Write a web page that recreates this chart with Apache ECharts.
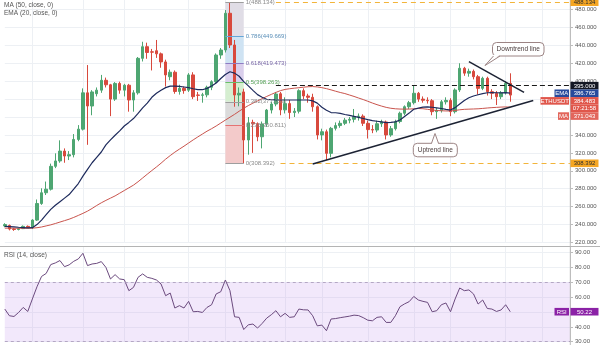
<!DOCTYPE html>
<html><head><meta charset="utf-8">
<script src="https://cdn.jsdelivr.net/npm/echarts@6/dist/echarts.min.js"></script>
<style>html,body{margin:0;padding:0;background:#fff}#c{width:600px;height:345px}</style>
</head><body><div id="c"></div>
<script>
// ---------------- data ----------------
const SLOT_COUNT = 124; // 111 candles + empty right margin slots
const slots = Array.from({length: SLOT_COUNT}, (_, i) => 'T' + i);

const opens = [238.5,239,235,234.5,235.5,238,237,245,263.5,275.5,
279.5,305,311,322,316.5,318,335,346.5,387,372.3,
386,390,401,396,380,397.5,390,395.5,379,387,
425.5,438.5,432.8,434,430.5,421.5,405,410,388.5,392,
390,407,384.6,384.2,384.8,393.2,399.4,429.2,434.8,475.8,
440.4,384.6,388,334.4,354,352.5,338,352.2,367.8,374.5,
386,368,375,365,366.5,389.4,383.5,382,371.5,340,
343.6,319.5,347.4,350.5,353,356.5,357.5,360.4,361,353,
346,345.5,352.5,354.5,340,347,355,364.2,371.5,376,
386.5,380,378.7,378.2,366,367.5,377,378.5,366,390.2,
414.4,409,411,405,392,403.2,388.3,386.5,382.7,387,
397.6];
const highs = [241.5,240,236,236.5,239,239,246,268,280.5,288,
308,319.5,334,325,322,341,351,392,418,390,
393,407,404,397,399,399.5,397,397,390,427,
444,443,436,446,432,424,413,412,396,394,
409,410,388,387,395,401,431,437,479.4,488.134,
446,393,391.6,360,357,354,355,369,377,388,
388,382,379,370,391,392,386,386,373,347,
346,349,354,356,359,360,369,364,363,356,
351,356,357,356,350,357,366,373,378,395.7,
388,383,382,380,370,379,382,381,392,420,
416,414,413,407,405,405,391,389,389,400,
408.8];
const lows = [237,233.5,233,233.5,235,236,235,244,262,273,
278,303,309,309,312,315,333,345,329,362,
383,387,393,361,378,386,383,366,366,385,
422,425,412,426,415,394,401,386,385,386,
388,380,378,376,382,390,397,425,432,437,
371.5,372,308.392,318,320,333,325,349,364,372,
362,364,358,360,364,380,376,366,335,334,
312,315,345,348,351,353,354,356,350,336,
342,343,349,335,338,345,353,362,369,374,
377,376,375,362,358,365,374,361,364,388,
406,405,402,385,390,384,380,373.4,380,385,
377.1];
const closes = [240,235,234.5,235.5,238,237,245,263.5,275.5,279.5,
305,311,322,316.5,318,335,346.5,387,372.3,388,
390,401,396,380,397.5,390,395.5,379,387,425.5,
438.5,432,432.4,430.5,421.5,407,410,388.5,392,389.5,
407,382.7,384.2,384.8,393.2,399.4,429.2,434.8,475.8,440.4,
384.6,386.5,334.4,353.5,352.5,338,352.2,367.8,374.5,385.7,
368,375,365,366.5,389.4,383.5,382,371.5,340,343.6,
319.5,347.4,350.5,353,356.5,357.5,360.4,361,353,346,
345.5,352.5,354.5,340,347,355,364.2,371.5,376,386.5,
380,378.7,378.2,366,367.5,377,378.5,366,390.2,414.4,
409,411,405,392,403.2,388.3,386.5,382.7,387,397.6,
384.483];
const ema20 = [238,237.8,237.4,237,236.7,236.4,236.5,240,245,251,
257,261.5,265.5,269.5,273.5,279.5,285.8,294,301.5,309,
315,321,329,334.5,339.7,344.5,350,354,358.3,364,
370.2,375.5,382,386.5,390,392.8,394.5,394.6,394.2,393.5,
392.8,391.6,390.6,390.5,392,394.6,398,403,407.5,410.5,
409,405.5,399.5,394.8,389.8,385,382,379.8,379.4,379.1,
379,379,379,379,379,379,379,378,375.5,371,
367.5,365,364.8,364,362.8,361.8,360.8,359.6,358.4,357.1,
356,355.3,354.6,353.7,354,354.6,356.7,360.6,364.4,368.7,
370,371,371.4,370.9,370.2,369.5,368.5,367.8,370.5,374.5,
378.5,381.5,383.5,384.9,386.2,387.1,387.2,387.1,387,387.2,
386.765];
const ma50 = [236,236,236,235.9,235.9,235.9,236,236.5,237.3,238.5,
239.7,241.2,242.8,244.4,246,248,250.2,252.5,255,258,
261.3,264.3,267,269.5,272,275,278,281,284,287.8,
292,296.2,300.3,304.3,308.5,313,317,320.8,324.2,327.5,
331,334.5,337.8,341,344.2,347,350,353.3,356.6,359.8,
363,366.5,369.8,372.8,375.5,378,380.5,383,385.3,387.5,
389.5,390.8,391.6,392.2,392.7,393.3,393.8,394,393.6,392.8,
391.7,390.3,388.8,387.4,386.2,384.6,383,381.2,379.5,377.6,
375.6,373.8,372.2,370.8,369.8,369.2,368.9,368.8,368.9,369.2,
369.5,369.3,368.6,367.9,367.3,367,366.8,366.8,367.3,368.1,
368.6,368.8,369,369.2,369.6,370.1,370.5,370.8,371.1,371.3,
371.043];
const rsi14 = [52,47.5,47,49.7,53.1,50.4,58.8,67,74,76,
82,83.1,84.7,80.6,81.8,84.2,85.8,89.6,81.3,82.4,
82.8,84,80.1,72.3,75.2,72.3,71.8,64.4,66.6,73.4,
75.7,73.4,72.7,71.6,68.9,61,62.8,52.7,54.3,52.7,
57.2,50.2,50.4,49.7,53.1,54.9,62.2,63.7,71.6,64.4,
46.8,46.4,38.2,41.4,41.9,39.2,42.3,45.9,48.2,50.9,
46.8,49.1,46.4,46.8,52,51.5,51.4,47.5,40.7,41.2,
37.4,45.3,45.6,46.2,46.7,47.2,47.9,47.6,46.2,44.5,
44.1,46.4,46.8,43,43,47.5,53.6,55.5,57,60.5,
58.1,57.2,56.5,50.2,50.9,54.9,56.1,50.2,58.8,66.2,
64.4,64.9,62.2,55.4,58.1,52.4,52,50.4,51.4,54.9,
50.22];

// fibonacci retracement (swing high -> swing low)
const fibLevels = [1, 0.786, 0.618, 0.5, 0.382, 0.236, 0];
const fibPrices = [488.134, 449.669, 419.473, 398.263, 377.053, 350.811, 308.392];
const fibStartSlot = 48, fibEndSlot = 52;
// horizontal levels
const resistanceLevel = 395;
const levelStartSlot = 59;
// trend lines [slot index, price]
const downtrendLine = [[101, 421.8], [113, 387.5]];
const uptrendLine = [[67, 307.6], [115, 378.5]];
const countdownText = '07:21:58';
const symbolName = 'ETHUSDT';

// ---------------- styles ----------------
const gridDateIdx = new Set([6,17,26,40,48,61,69,79,89,97,109,117]);
const UP = '#4ea672', DOWN = '#d8493d';
const FONT = 'Liberation Sans, Arial, sans-serif';
const fibLineColors = ['#9e9e9e','#64a6d8','#8e7cc3','#6abf69','#9e9e9e','#e57373','#9e9e9e'];
const fibLabelColors = ['#8a8a8a','#5a8fb8','#7a68a6','#56a056','#8d8d8d','#8d8d8d','#8a8a8a'];
const fibBandColors = ['#e0dde6','#cfe3f3','#dacfec','#d5eed0','#dbdbdb','#f3caca'];

const ohlc = opens.map((o, i) => [o, closes[i], lows[i], highs[i]]);
const lastIdx = closes.length - 1;

const fibAreas = [];
for (let k = 0; k < fibPrices.length - 1; k++) {
  fibAreas.push([
    {xAxis: slots[fibStartSlot], yAxis: fibPrices[k], itemStyle: {color: fibBandColors[k]}},
    {xAxis: slots[fibEndSlot], yAxis: fibPrices[k + 1]}
  ]);
}
const markLines = fibPrices.map((p, k) => [
  {coord: [slots[fibStartSlot], p], lineStyle: {color: fibLineColors[k], width: 1, type: 'solid'},
   label: {show: true, position: 'end', distance: 2, color: fibLabelColors[k], fontSize: 6, fontFamily: FONT,
     formatter: fibLevels[k] + '(' + p.toFixed(3) + ')'}},
  {coord: [slots[fibEndSlot], p]}
]);
[fibPrices[0], fibPrices[fibPrices.length - 1]].forEach((p, k) => {
  markLines.push([
    {coord: [slots[levelStartSlot + k], p], lineStyle: {color: '#f2b43a', width: 1.2, type: [5, 4]}, label: {show: false}},
    {coord: [slots[SLOT_COUNT - 1], p]}
  ]);
});
markLines.push([
  {coord: [slots[levelStartSlot], resistanceLevel], lineStyle: {color: '#1a1a1a', width: 1.2, type: [5, 3]}, label: {show: false}},
  {coord: [slots[SLOT_COUNT - 1], resistanceLevel]}
]);

const chart = echarts.init(document.getElementById('c'));
const gridLine = {color: '#edf0f4', width: 1};
const xAxisBase = {
  type: 'category', data: slots, boundaryGap: false,
  axisLine: {show: false}, axisTick: {show: false}, axisLabel: {show: false},
  splitLine: {show: true, interval: (i) => gridDateIdx.has(i), lineStyle: gridLine}
};
const yAxisBase = {
  position: 'right',
  axisLine: {show: true, lineStyle: {color: '#bdbdbd'}},
  axisTick: {show: true, length: 3, lineStyle: {color: '#bdbdbd'}},
  splitLine: {show: true, showMaxLine: false, lineStyle: gridLine},
};
const option = {
  animation: false,
  backgroundColor: '#fff',
  grid: [
    {left: 4.8, right: 30, top: 0, height: 242.5},
    {left: 4.8, right: 30, top: 246.5, height: 95.2}
  ],
  xAxis: [Object.assign({gridIndex: 0}, xAxisBase), Object.assign({gridIndex: 1}, xAxisBase)],
  yAxis: [
    Object.assign({}, yAxisBase, {gridIndex: 0, type: 'value', min: 220, max: 490.6, interval: 20,
      axisLabel: {fontSize: 6, color: '#555', fontFamily: FONT, margin: 5, showMaxLabel: false,
        formatter: v => v.toFixed(3)}}),
    Object.assign({}, yAxisBase, {gridIndex: 1, type: 'value', min: 30, max: 94.18, interval: 10,
      axisLabel: {fontSize: 6, color: '#555', fontFamily: FONT, margin: 5, showMaxLabel: false,
        formatter: v => v.toFixed(2)}})
  ],
  series: [
    {type: 'line', name: 'fib', xAxisIndex: 0, yAxisIndex: 0, data: [], silent: true,
      markArea: {silent: true, data: fibAreas},
      markLine: {silent: true, symbol: ['none', 'none'], data: markLines}},
    {type: 'candlestick', name: symbolName, xAxisIndex: 0, yAxisIndex: 0, data: ohlc, barWidth: 3, clip: false, z: 3,
      itemStyle: {color: UP, color0: DOWN, borderColor: UP, borderColor0: DOWN, borderWidth: 1}},
    {type: 'line', name: 'MA', xAxisIndex: 0, yAxisIndex: 0, data: ma50, symbol: 'none', z: 4,
      lineStyle: {color: '#c9544d', width: 1}},
    {type: 'line', name: 'EMA', xAxisIndex: 0, yAxisIndex: 0, data: ema20, symbol: 'none', z: 4,
      lineStyle: {color: '#1d2a5c', width: 1.2}},
    {type: 'line', name: 'Downtrend', xAxisIndex: 0, yAxisIndex: 0, data: downtrendLine, symbol: 'none', z: 5,
      lineStyle: {color: '#1c2233', width: 1.5}},
    {type: 'line', name: 'Uptrend', xAxisIndex: 0, yAxisIndex: 0, data: uptrendLine, symbol: 'none', z: 5,
      lineStyle: {color: '#1c2233', width: 1.5}},
    {type: 'line', name: 'RSI', xAxisIndex: 1, yAxisIndex: 1, data: rsi14, symbol: 'none', z: 4,
      lineStyle: {color: '#6b4a7e', width: 1},
      markArea: {silent: true, data: [[{xAxis: slots[0], yAxis: 70, itemStyle: {color: 'rgba(200,160,240,0.24)'}}, {xAxis: slots[SLOT_COUNT - 1], yAxis: 30}]]},
      markLine: {silent: true, symbol: ['none', 'none'], label: {show: false},
        lineStyle: {color: '#a899b8', width: 0.8, type: [3, 3]},
        data: [{yAxis: 70}, {yAxis: 30}]}}
  ]
};
chart.setOption(option);

// ---------------- overlay texts / axis tags ----------------
const g = [];
const txt = (x, y, text, color, size, align) => ({type: 'text', x, y, z: 70,
  style: {text, fill: color, font: size + 'px ' + FONT, align: align || 'left', textAlign: align || 'left', verticalAlign: 'middle', textVerticalAlign: 'middle'}});

g.push({type: 'line', z: 65, shape: {x1: 0, y1: 246.5, x2: 600, y2: 246.5}, style: {stroke: '#b4b4b4', lineWidth: 1}});
g.push({type: 'line', z: 64, shape: {x1: 570.3, y1: 0, x2: 570.3, y2: 345}, style: {stroke: '#bdbdbd', lineWidth: 1}});
g.push(txt(4, 5, 'MA (50, close, 0)', '#555', 6.5));
g.push(txt(4, 13, 'EMA (20, close, 0)', '#555', 6.5));
g.push(txt(4, 255, 'RSI (14, close)', '#555', 6.5));

const TAG_H = 7.6;
function tag(y, label, bg, fg, name) {
  g.push({type: 'rect', z: 80, shape: {x: 570.5, y: y - TAG_H / 2, width: 28, height: TAG_H}, style: {fill: bg}});
  g.push(Object.assign(txt(584.5, y + 0.3, label, fg, 6, 'center'), {z: 81}));
  if (name) {
    const w = name.length * 3.5 + 4;
    g.push({type: 'rect', z: 80, shape: {x: 569 - w, y: y - TAG_H / 2, width: w, height: TAG_H}, style: {fill: bg}});
    g.push(Object.assign(txt(569 - w / 2, y + 0.3, name, fg, 6, 'center'), {z: 81}));
  }
}
const py = (axis, v) => chart.convertToPixel({yAxisIndex: axis}, v);
const mainTags = [
  {v: fibPrices[0], label: fibPrices[0].toFixed(3), bg: '#f5a623', fg: '#2b2b2b'},
  {v: resistanceLevel, label: resistanceLevel.toFixed(3), bg: '#131722', fg: '#fff'},
  {v: ema20[lastIdx], label: ema20[lastIdx].toFixed(3), bg: '#274a9c', fg: '#fff', name: 'EMA'},
  {v: closes[lastIdx], label: closes[lastIdx].toFixed(3), bg: '#e0564b', fg: '#fff', name: symbolName, extra: countdownText},
  {v: ma50[lastIdx], label: ma50[lastIdx].toFixed(3), bg: '#e2665c', fg: '#fff', name: 'MA'},
  {v: fibPrices[fibPrices.length - 1], label: fibPrices[fibPrices.length - 1].toFixed(3), bg: '#f5a623', fg: '#2b2b2b'}
].map(t => Object.assign(t, {y: py(0, t.v)})).sort((a, b) => a.y - b.y);
let lastBottom = -1e9;
mainTags.forEach(t => {
  const y = Math.max(t.y, lastBottom + TAG_H);
  tag(y, t.label, t.bg, t.fg, t.name);
  lastBottom = y;
  if (t.extra) { tag(y + TAG_H, t.extra, t.bg, t.fg); lastBottom = y + TAG_H; }
});
tag(py(1, rsi14[lastIdx]), rsi14[lastIdx].toFixed(2), '#8b22a6', '#fff', 'RSI');

// callouts (annotation bubbles)
function callout(bx, by, bw, bh, b1, b2, tip, text, tailBottom) {
  const edge = tailBottom ? by + bh : by;
  const inner = tailBottom ? edge - 1.2 : edge + 1.2;
  g.push({type: 'rect', z: 90, shape: {x: bx, y: by, width: bw, height: bh, r: 4}, style: {fill: '#fff', stroke: '#9c8484', lineWidth: 1}});
  g.push({type: 'polygon', z: 91, shape: {points: [[b1, inner], tip, [b2, inner]]}, style: {fill: '#fff'}});
  g.push({type: 'polyline', z: 92, shape: {points: [[b1, edge], tip, [b2, edge]]}, style: {stroke: '#9c8484', lineWidth: 1, fill: null}});
  g.push(Object.assign(txt(bx + bw / 2, by + bh / 2 + 0.3, text, '#4a3c3c', 6.5, 'center'), {z: 93}));
}
callout(492.5, 42.5, 51.5, 13.5, 493.5, 500, [485, 65.5], 'Downtrend line', true);
callout(413.3, 143.3, 44, 13.5, 431.5, 438.5, [435, 133.5], 'Uptrend line', false);

chart.setOption({graphic: g});
</script>
</body></html>
